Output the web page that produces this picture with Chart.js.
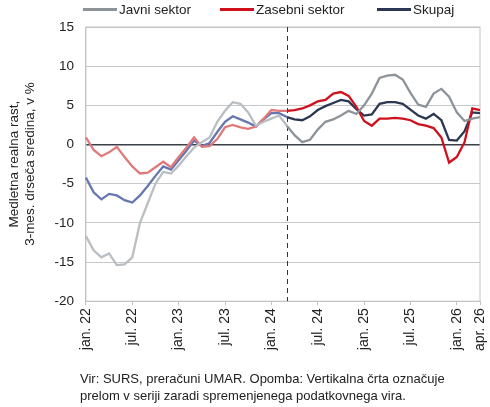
<!DOCTYPE html>
<html>
<head>
<meta charset="utf-8">
<script src="https://cdn.jsdelivr.net/npm/chart.js@4"></script>
<style>
  body { margin: 0; background: #fff; }
  #wrap { position: relative; width: 490px; height: 407px; font-family: "Liberation Sans", Arial, sans-serif; }
  #note {
    position: absolute; left: 80px; top: 370px;
    font-size: 13px; color: #222; line-height: 17px;
  }
  .lg { position: absolute; top: 2px; font-size: 13.5px; color: #222; white-space: nowrap; }
  .lg i { display: inline-block; width: 34px; height: 2.5px; vertical-align: middle; margin-right: 2px; position: relative; top: -1px; }
</style>
</head>
<body>
<div id="wrap">
  <canvas id="chart" width="490" height="407"></canvas>
  <div class="lg" style="left:83px"><i style="background:#8c9399"></i>Javni sektor</div>
  <div class="lg" style="left:220px"><i style="background:#d0101c"></i>Zasebni sektor</div>
  <div class="lg" style="left:377px"><i style="background:#2c3752"></i>Skupaj</div>
  <div id="note">Vir: SURS, preračuni UMAR. Opomba: Vertikalna črta označuje<br>prelom v seriji zaradi spremenjenega podatkovnega vira.</div>
</div>
<script>
const months = ["jan.", "feb.", "mar.", "apr.", "maj", "jun.", "jul.", "avg.", "sep.", "okt.", "nov.", "dec."];
const labels = [];
for (let y = 22; y <= 26; y++) {
    for (let m = 0; m < 12; m++) {
        if (y === 26 && m > 3) break;
        labels.push(months[m] + " " + y);
    }
}

// index of break in series (mar. 24)
const breakIndex = 26;

const javni = [-11.7, -13.5, -14.4, -13.9, -15.4, -15.3, -14.4, -10.0, -7.5, -5.0, -3.5, -3.7,
    -2.7, -1.5, -0.4, 0.3, 0.9, 2.9, 4.3, 5.4, 5.2, 4.1, 2.4, 2.9,
    3.3, 3.7, 2.4, 1.2, 0.3, 0.6, 1.9, 2.9, 3.2, 3.7, 4.3, 3.9,
    5.0, 6.5, 8.5, 8.8, 8.9, 8.3, 6.6, 5.1, 4.8, 6.5, 7.1, 6.1,
    4.1, 3.0, 3.3, 3.5];

const zasebni = [0.9, -0.7, -1.5, -1.0, -0.3, -1.6, -2.8, -3.7, -3.6, -2.9, -2.2, -2.9,
    -1.6, -0.4, 0.9, -0.3, -0.2, 0.7, 2.2, 2.5, 2.2, 2.0, 2.3, 3.3,
    4.4, 4.3, 4.3, 4.4, 4.6, 5.0, 5.5, 5.7, 6.5, 6.7, 6.2, 4.8,
    3.0, 2.4, 3.3, 3.3, 3.4, 3.3, 3.1, 2.6, 2.4, 2.1, 0.9, -2.3,
    -1.6, 0.3, 4.6, 4.4];

const skupaj = [-4.2, -6.1, -7.0, -6.3, -6.5, -7.1, -7.4, -6.5, -5.3, -4.0, -2.8, -3.2,
    -2.0, -0.8, 0.5, -0.2, 0.2, 1.6, 2.9, 3.6, 3.2, 2.8, 2.3, 3.2,
    4.0, 4.0, 3.5, 3.2, 3.1, 3.6, 4.4, 4.9, 5.3, 5.7, 5.5, 4.5,
    3.7, 3.85, 5.2, 5.4, 5.4, 5.2, 4.45, 3.7, 3.3, 3.9, 3.1, 0.6,
    0.5, 1.7, 4.1, 4.0];

const tickLabels = ["jan. 22", "jul. 22", "jan. 23", "jul. 23", "jan. 24", "jul. 24", "jan. 25", "jul. 25", "jan. 26", "apr. 26"];

function series(name, data, dark, light) {
    return {
        label: name,
        data: data,
        borderColor: dark,
        backgroundColor: dark,
        borderWidth: 2.3,
        pointRadius: 0,
        tension: 0,
        segment: {
            borderColor: ctx => ctx.p0DataIndex < breakIndex ? light : dark
        }
    };
}

// dashed break line + plot border
const extras = {
    id: "extras",
    beforeDatasetsDraw(chart) {
        const { ctx, chartArea: a, scales } = chart;
        ctx.save();
        ctx.strokeStyle = "#c4c4c4";
        ctx.lineWidth = 1;
        ctx.strokeRect(a.left, a.top, a.right - a.left, a.bottom - a.top);
        const x = Math.round(scales.x.getPixelForValue(breakIndex)) + 0.5;
        ctx.strokeStyle = "#333";
        ctx.setLineDash([5, 4]);
        ctx.beginPath();
        ctx.moveTo(x, a.top);
        ctx.lineTo(x, a.bottom);
        ctx.stroke();
        ctx.restore();
    }
};

new Chart(document.getElementById("chart"), {
    type: "line",
    data: {
        labels: labels,
        datasets: [
            series("Javni sektor", javni, "#8c9399", "#b9bec2"),
            series("Zasebni sektor", zasebni, "#d0101c", "#e07a7a"),
            series("Skupaj", skupaj, "#2c3752", "#6677b0")
        ]
    },
    plugins: [extras],
    options: {
        responsive: false,
        animation: false,
        layout: { padding: { top: 27, right: 10, bottom: 53, left: 6 } },
        plugins: {
            legend: { display: false },
            tooltip: { enabled: false }
        },
        scales: {
            x: {
                offset: false,
                afterFit: s => { s.paddingRight = 0; s.paddingLeft = 0; },
                grid: {
                    drawOnChartArea: false,
                    drawTicks: true,
                    tickLength: 4,
                    color: ctx => (ctx.tick && tickLabels.includes(labels[ctx.tick.value])) ? "#c4c4c4" : "rgba(0,0,0,0)"
                },
                border: { color: "#c4c4c4" },
                ticks: {
                    autoSkip: false,
                    maxRotation: 90,
                    minRotation: 90,
                    color: "#222",
                    font: { family: "Liberation Sans", size: 14 },
                    callback: function (v) {
                        const l = labels[v];
                        return tickLabels.includes(l) ? l : "";
                    }
                }
            },
            y: {
                min: -20,
                max: 15,
                afterFit: s => { s.paddingTop = 0; s.paddingBottom = 0; },
                ticks: {
                    stepSize: 5,
                    color: "#222",
                    font: { family: "Liberation Sans", size: 13.5 },
                    padding: 12
                },
                grid: {
                    drawTicks: false,
                    color: ctx => ctx.tick.value === 0 ? "#3a3f48" : "#c8c8c8",
                    lineWidth: ctx => ctx.tick.value === 0 ? 1.5 : 1
                },
                border: { color: "#c4c4c4" },
                title: {
                    display: true,
                    text: ["Medletna realna rast,", "3-mes. drseča sredina, v %"],
                    color: "#222",
                    font: { family: "Liberation Sans", size: 13.5 },
                    padding: { top: 0, bottom: 4 }
                }
            }
        }
    }
});
</script>
</body>
</html>
